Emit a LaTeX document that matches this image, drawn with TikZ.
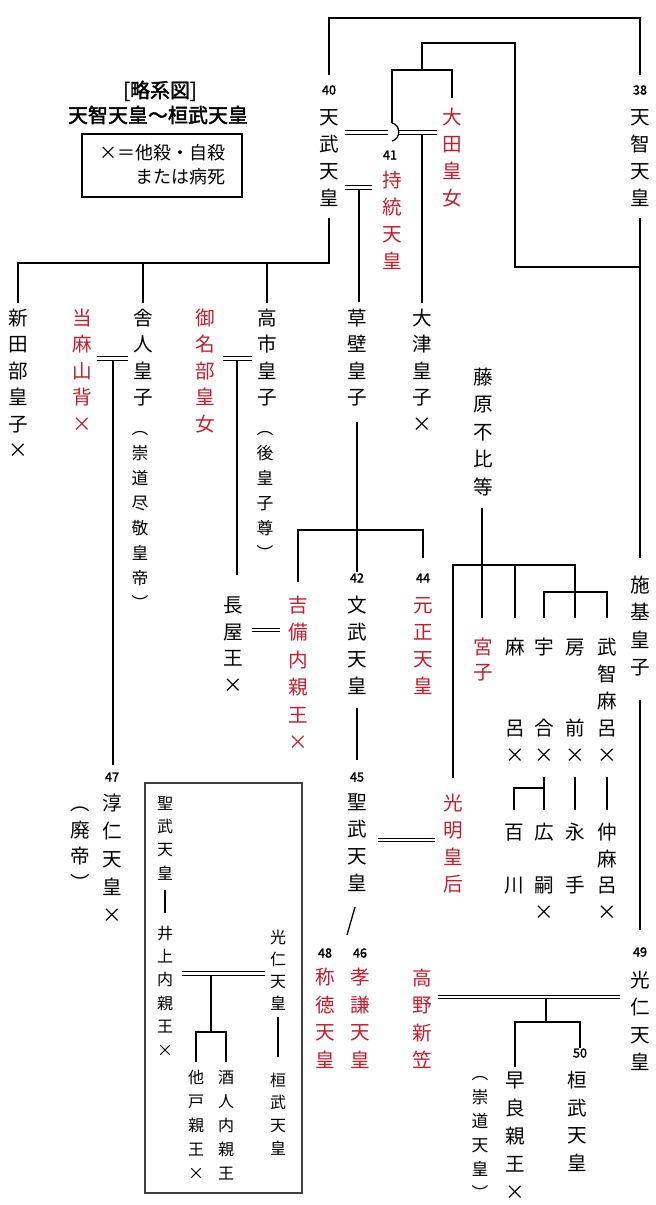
\documentclass[tikz,border=0pt]{standalone}
\usepackage{fontspec}
\newfontfamily\jp{Noto Sans CJK JP}
\newfontfamily\jpb{Noto Sans CJK JP}[FakeBold=2]
\definecolor{jpred}{RGB}{195,30,45}
\newcommand\vcol[6]{%
  \foreach \c [count=\i from 1] in {#6} {\node[#2] (#1-\i) at ({#3},{#4+(\i-1)*#5}) {\c};}}
\tikzset{
  ch/.style={inner sep=0pt, font=\jp\fontsize{9.8}{10}\selectfont, text height=8.6pt, text depth=1.2pt},
  chr/.style={ch, text=jpred},
  sm/.style={inner sep=0pt, font=\jp\fontsize{8.4}{9}\selectfont, text height=7.4pt, text depth=1pt},
  bx/.style={inner sep=0pt, font=\jp\fontsize{8}{9}\selectfont, text height=7pt, text depth=1pt},
  num/.style={inner sep=0pt, font=\jpb\fontsize{6.3}{7}\selectfont, text height=4.5pt, text depth=0pt},
  ttl/.style={inner sep=0pt, font=\jpb\fontsize{10}{11}\selectfont, text height=8.8pt, text depth=1.2pt},
  leg/.style={inner sep=0pt, font=\jp\fontsize{9}{10}\selectfont, text height=7.9pt, text depth=1.1pt},
  ln/.style={line width=0.65pt},
  mar/.style={double=white, line width=0.6pt, double distance=1.15pt},
}
\begin{document}
\begin{tikzpicture}[x=0.5pt,y=-0.5pt]
\path[use as bounding box, fill=white] (0,0) rectangle (655,1205);

% legend
\node[ttl] (t1) at (160,90) {[略系図]};
\node[ttl] (t2) at (158,115) {天智天皇〜桓武天皇};
\draw[ln] (82,134) rectangle (242,197);
\node[leg, anchor=east] (l1) at (226,153) {×＝他殺・自殺};
\node[leg, anchor=east] (l2) at (226,177) {または病死};

% people
\vcol{tenmu}{ch}{329}{117}{27}{天,武,天,皇}
\node[num] (n40) at (329,90) {40};
\vcol{tenji}{ch}{640}{117}{27}{天,智,天,皇}
\node[num] (n38) at (640,90) {38};
\vcol{ota}{chr}{452}{117}{27}{大,田,皇,女}
\vcol{jito}{chr}{392}{180}{27}{持,統,天,皇}
\node[num] (n41) at (390,155) {41};
\vcol{nitabe}{ch}{18}{318}{26.5}{新,田,部,皇,子,×}
\vcol{taima}{chr}{82}{318}{26.5}{当,麻,山,背,×}
\vcol{toneri}{ch}{143}{318}{26.5}{舎,人,皇,子}
\vcol{toneria}{sm}{140}{428}{25}{︵,崇,道,尽,敬,皇,帝,︶}
\vcol{minabe}{chr}{205}{318}{26.5}{御,名,部,皇,女}
\vcol{takechi}{ch}{267}{318}{26.5}{高,市,皇,子}
\vcol{takechia}{sm}{265}{428}{25}{︵,後,皇,子,尊,︶}
\vcol{kusakabe}{ch}{357}{318}{26.5}{草,壁,皇,子}
\vcol{otsu}{ch}{422}{318}{26.5}{大,津,皇,子,×}
\vcol{fuhito}{ch}{483}{377}{27.5}{藤,原,不,比,等}
\vcol{nagaya}{ch}{233}{605}{26.7}{長,屋,王,×}
\vcol{kibi}{chr}{298}{605}{27.5}{吉,備,内,親,王,×}
\vcol{monmu}{ch}{357}{605}{27}{文,武,天,皇}
\node[num] (n42) at (357,578) {42};
\vcol{gensho}{chr}{423}{605}{27}{元,正,天,皇}
\node[num] (n44) at (423,578) {44};
\vcol{shiki}{ch}{640}{585}{27.5}{施,基,皇,子}
\vcol{miyako}{chr}{483}{647}{25.5}{宮,子}
\vcol{maro}{ch}{515}{647}{27}{麻,,,呂,×}
\vcol{umakai}{ch}{544}{647}{27}{宇,,,合,×}
\vcol{fusasaki}{ch}{575}{647}{27}{房,,,前,×}
\vcol{muchi}{ch}{607}{647}{27}{武,智,麻,呂,×}
\vcol{junnin}{ch}{112}{803}{28}{淳,仁,天,皇,×}
\node[num] (n47) at (112,777) {47};
\vcol{haitei}{ch}{80}{803}{26.7}{︵,廃,帝,︶}
\vcol{shomu}{ch}{357}{802}{27}{聖,武,天,皇}
\node[num] (n45) at (357,777) {45};
\vcol{komyo}{chr}{453}{803}{27}{光,明,皇,后}
\vcol{momo}{ch}{514}{832}{26.7}{百,,川}
\vcol{hiro}{ch}{544}{832}{26.7}{広,,嗣,×}
\vcol{nagate}{ch}{575}{832}{26.7}{永,,手}
\vcol{naka}{ch}{607}{832}{26.7}{仲,麻,呂,×}
\vcol{shotoku}{chr}{325}{977}{27.7}{称,徳,天,皇}
\node[num] (n48) at (325,953) {48};
\vcol{koken}{chr}{360}{977}{27.7}{孝,謙,天,皇}
\node[num] (n46) at (360,953) {46};
\vcol{takano}{chr}{422}{978}{27.5}{高,野,新,笠}
\vcol{konin}{ch}{640}{980}{27.5}{光,仁,天,皇}
\node[num] (n49) at (640,952) {49};
\vcol{sawara}{ch}{515}{1080}{28}{早,良,親,王,×}
\vcol{sudo}{sm}{480}{1073}{24}{︵,崇,道,天,皇,︶}
\vcol{kanmu}{ch}{577}{1080}{27.7}{桓,武,天,皇}
\node[num] (n50) at (580,1053) {50};

% inset box
\draw[line width=0.9pt, draw=black!75] (145,783) rectangle (302,1193);
\vcol{bshomu}{bx}{165}{803}{23.4}{聖,武,天,皇}
\vcol{binoue}{bx}{165}{933}{23.4}{井,上,内,親,王,×}
\vcol{bkonin}{bx}{278}{937}{22}{光,仁,天,皇}
\vcol{bkanmu}{bx}{278}{1080}{22.7}{桓,武,天,皇}
\vcol{bosabe}{bx}{196}{1077}{24}{他,戸,親,王,×}
\vcol{bsaka}{bx}{226}{1077}{24}{酒,人,内,親,王}
\draw[ln] (165,890) -- (165,913);
\draw[ln] (278,1017) -- (278,1057);
\draw[mar] (182,973.5) -- (265,973.5);
\draw[ln] (211,975.5) -- (211,1032) (196,1062) -- (196,1032) -- (226,1032) -- (226,1062);

% connectors
\draw[ln] (329,75) -- (329,18) -- (640,18) -- (640,75);
\draw[ln] (640,267) -- (515,267) -- (515,43) -- (422,43) -- (422,70);
\draw[ln] (452,98) -- (452,70) -- (392,70) -- (392,123);
\draw[mar] (345,132.5) -- (388,132.5);
\draw[mar] (398,132.5) -- (437,132.5);
\draw[ln] (392,123) .. controls (401,125) and (401,139) .. (392,141);
\draw[ln] (422,134.5) -- (422,303);
\draw[mar] (345,187.5) -- (372,187.5);
\draw[ln] (359,189.5) -- (359,302);
\draw[ln] (329,218) -- (329,263) -- (18,263) -- (18,303);
\draw[ln] (143,263) -- (143,303);
\draw[ln] (267,263) -- (267,303);
\draw[mar] (97,358.5) -- (128,358.5);
\draw[ln] (113,360.5) -- (113,765);
\draw[mar] (223,358.5) -- (252,358.5);
\draw[ln] (237,360.5) -- (237,575);
\draw[mar] (252,630) -- (280,630);
\draw[ln] (357,422) -- (357,572);
\draw[ln] (298,582) -- (298,530) -- (423,530) -- (423,558);
\draw[ln] (357,708) -- (357,760);
\draw[mar] (378,840) -- (435,840);
\draw[ln] (482,508) -- (482,618);
\draw[ln] (453,778) -- (453,565) -- (575,565) -- (575,618);
\draw[ln] (515,565) -- (515,618);
\draw[ln] (544,618) -- (544,592) -- (607,592) -- (607,618);
\draw[ln] (544,777) -- (544,810);
\draw[ln] (514,810) -- (514,788) -- (544,788);
\draw[ln] (575,777) -- (575,810);
\draw[ln] (607,777) -- (607,810);
\draw[ln] (640,218) -- (640,558);
\draw[ln] (640,700) -- (640,930);
\draw[ln] (355,907) -- (347,935);
\draw[mar] (438,997) -- (620,997);
\draw[ln] (546,999) -- (546,1022);
\draw[ln] (515,1067) -- (515,1022) -- (580,1022) -- (580,1048);
\end{tikzpicture}
\end{document}
